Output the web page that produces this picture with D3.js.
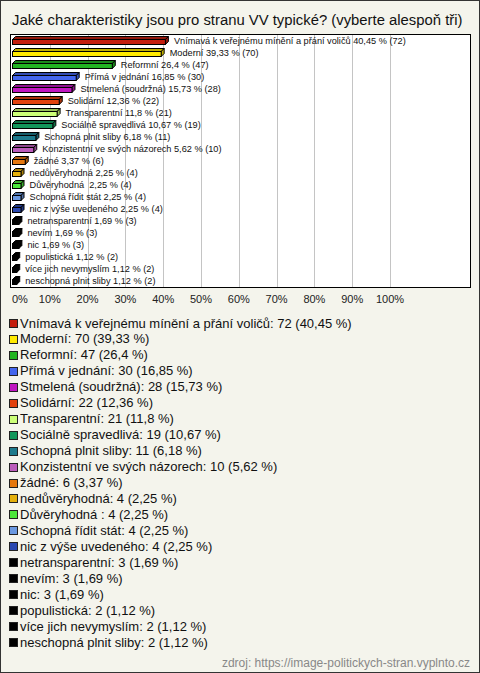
<!DOCTYPE html>
<html><head><meta charset="utf-8">
<script src="https://cdn.jsdelivr.net/npm/d3@7"></script>
<style>
html,body{margin:0;padding:0;background:#f4f4ec;}
svg{display:block;font-family:"Liberation Sans",Arial,sans-serif;}
text{white-space:pre;}
</style></head>
<body>
<svg id="c" width="480" height="673"></svg>
<script>
const title = "Jaké charakteristiky jsou pro stranu VV typické? (vyberte alespoň tři)";
const categories = ["Vnímavá k veřejnému mínění a přání voličů","Moderní","Reformní","Přímá v jednání","Stmelená (soudržná)","Solidární","Transparentní","Sociálně spravedlivá","Schopná plnit sliby","Konzistentní ve svých názorech","žádné","nedůvěryhodná","Důvěryhodná ","Schopná řídit stát","nic z výše uvedeného","netransparentní","nevím","nic","populistická","více jich nevymyslím","neschopná plnit sliby"];
const counts = [72,70,47,30,28,22,21,19,11,10,6,4,4,4,4,3,3,3,2,2,2];
const percents = [40.45,39.33,26.4,16.85,15.73,12.36,11.8,10.67,6.18,5.62,3.37,2.25,2.25,2.25,2.25,1.69,1.69,1.69,1.12,1.12,1.12];
const colors = ["#c41e0e","#ffea00","#22b422","#4466ee","#c016c0","#e2420e","#ccff77","#12965a","#1e7a8c","#bb5cbb","#e6780e","#e4b00c","#4ce63c","#6a98e0","#2a48b0","#000000","#000000","#000000","#000000","#000000","#000000"];
const tickValues = [0,10,20,30,40,50,60,70,80,90,100];
const source = "zdroj: https://image-politickych-stran.vyplnto.cz";

const svg = d3.select("#c");
const W = 480, H = 673;
svg.append("rect").attr("x",0.5).attr("y",0.5).attr("width",W-1).attr("height",H-1)
  .attr("fill","#f4f4ec").attr("stroke","#333");

svg.append("text").attr("x",12).attr("y",25).attr("font-size",14.85).attr("fill","#111").text(title);

const fmt = v => String(v).replace(".", ",");
const plot = {x0:10, y0:34, x1:470, y1:287};
const x = d3.scaleLinear().domain([0,100]).range([12, 390]);
const y = d3.scaleBand().domain(categories).range([plot.y0+1, plot.y1-1]).paddingInner(0);

svg.append("rect").attr("x",plot.x0+0.5).attr("y",plot.y0+0.5)
  .attr("width",plot.x1-plot.x0).attr("height",plot.y1-plot.y0)
  .attr("fill","#fff").attr("stroke","#000");

const g = svg.append("g");
g.selectAll("line.grid").data(tickValues.slice(1)).join("line")
  .attr("x1",d=>Math.round(x(d))+0.5).attr("x2",d=>Math.round(x(d))+0.5)
  .attr("y1",plot.y0+1).attr("y2",plot.y1)
  .attr("stroke","#c4c4c4");

const d3dep = 3, bh = 5;
const rows = categories.map((c,i)=>({c, n:counts[i], p:percents[i], col:colors[i]}));
const bar = g.selectAll("g.bar").data(rows).join("g");
bar.each(function(d){
  const gg = d3.select(this);
  const yc = y(d.c) + y.bandwidth()/2;
  const top = Math.round(yc - bh/2 + 1) + 0.5;
  const xl = x(0)+0.5, xr = x(d.p)+0.5;
  const dark = d3.color(d.col).darker(0.8);
  gg.append("path").attr("d",`M${xl},${top}L${xl+d3dep},${top-d3dep}L${xr+d3dep},${top-d3dep}L${xr},${top}Z`)
    .attr("fill",dark).attr("stroke","#000").attr("stroke-width",1).attr("stroke-linejoin","round");
  gg.append("path").attr("d",`M${xr},${top}L${xr+d3dep},${top-d3dep}L${xr+d3dep},${top-d3dep+bh}L${xr},${top+bh}Z`)
    .attr("fill",dark).attr("stroke","#000").attr("stroke-width",1).attr("stroke-linejoin","round");
  gg.append("rect").attr("x",xl).attr("y",top).attr("width",Math.max(0,xr-xl)).attr("height",bh)
    .attr("fill",d.col).attr("stroke","#000").attr("stroke-width",1);
  gg.append("text").attr("x",x(d.p)+d3dep+6).attr("y",yc+3.5)
    .attr("font-size",9.2).attr("fill","#111")
    .text(`${d.c} ${fmt(d.p)} % (${d.n})`);
});

svg.selectAll("text.tick").data(tickValues).join("text")
  .attr("x",d=> d===0 ? x(0) : x(d))
  .attr("text-anchor",d=> d===0 ? "start" : "middle")
  .attr("y",303).attr("font-size",11).attr("fill","#222")
  .text(d=>d+"%");

const lg = svg.append("g");
const ly = d3.scaleLinear().domain([0, rows.length-1]).range([323, 642]);
rows.forEach((d,i)=>{
  const yy = ly(i);
  lg.append("rect").attr("x",9.5).attr("y",Math.round(yy-4)+0.5).attr("width",8).attr("height",8)
    .attr("fill",d.col).attr("stroke","#222");
  lg.append("text").attr("x",20).attr("y",yy+4.5).attr("font-size",13).attr("fill","#111")
    .text(`${d.c}: ${d.n} (${fmt(d.p)} %)`);
});

svg.append("text").attr("x",470).attr("y",667).attr("text-anchor","end")
  .attr("font-size",12).attr("fill","#888").text(source);
</script>
</body></html>
